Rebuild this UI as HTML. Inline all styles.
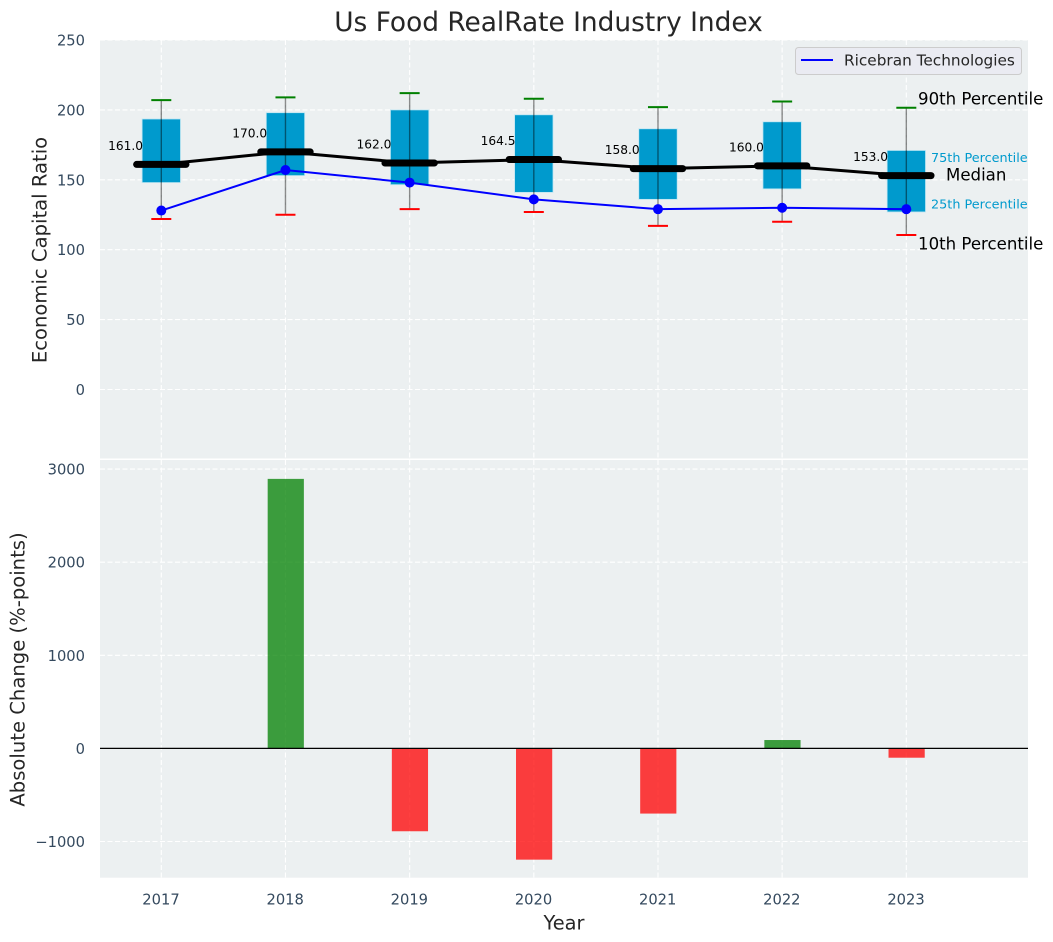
<!DOCTYPE html>
<html lang="en">
<head>
<meta charset="utf-8">
<title>Us Food RealRate Industry Index</title>
<style>
html,body{margin:0;padding:0;background:#fff;}
body{width:1053px;height:942px;overflow:hidden;}
svg{display:block;font-family:"DejaVu Sans","Liberation Sans",sans-serif;}
</style>
</head>
<body>
<svg id="chart" xmlns="http://www.w3.org/2000/svg" width="1053" height="942" viewBox="0 0 1053 942"></svg>
<script>
const years = [2017, 2018, 2019, 2020, 2021, 2022, 2023];
const p90 = [207, 209, 212, 208, 202, 206, 201.5];
const p75 = [193.5, 198, 200, 196.5, 186.5, 191.5, 171];
const median = [161, 170, 162, 164.5, 158, 160, 153];
const p25 = [148, 153, 146.5, 141, 136, 143.5, 127];
const p10 = [122, 125, 129, 127, 117, 120, 110.5];
const company = [128, 157, 148, 136, 129, 130, 129];
const change = [null, 2895, -890, -1195, -700, 90, -100];
const topTicks = [0, 50, 100, 150, 200, 250];
const bottomTicks = [-1000, 0, 1000, 2000, 3000];

const svg = document.getElementById('chart');
const NS = 'http://www.w3.org/2000/svg';
const L = 100, R = 1028;
const topY0 = 40, topY1 = 458.5, botY0 = 460, botY1 = 877.7;

function x(yr) { return 161.3 + (yr - 2017) * 124.17; }
function yTop(v) { return 389.5 - v * 1.398; }
function yBot(v) { return 748.4 - v * 0.0931; }

function add(tag, attrs, parent, text) {
  const el = document.createElementNS(NS, tag);
  for (const k in attrs) el.setAttribute(k, attrs[k]);
  if (text !== undefined) el.textContent = text;
  (parent || svg).appendChild(el);
  return el;
}

let el;

// Panels
el = add('rect', {x: L, y: topY0, width: R - L, height: topY1 - topY0, fill: '#ecf0f1'});


el = add('rect', {x: L, y: botY0, width: R - L, height: botY1 - botY0, fill: '#ecf0f1'});



const gridStyle = {stroke: '#ffffff', 'stroke-width': 1.1, 'stroke-dasharray': '5 2.5'};

// Grid
years.forEach(function (yr) {
  el = add('line', Object.assign({x1: x(yr), x2: x(yr), y1: topY0, y2: topY1}, gridStyle));
  
  
  el = add('line', Object.assign({x1: x(yr), x2: x(yr), y1: botY0, y2: botY1}, gridStyle));
  
  
});
topTicks.forEach(function (v) {
  el = add('line', Object.assign({x1: L, x2: R, y1: yTop(v), y2: yTop(v)}, gridStyle));
  
  
  el = add('text', {x: 85, y: yTop(v) + 5.5, 'text-anchor': 'end', 'font-size': 14.7, fill: '#34495e'}, null, String(v));
  
  
});
bottomTicks.forEach(function (v) {
  el = add('line', Object.assign({x1: L, x2: R, y1: yBot(v), y2: yBot(v)}, gridStyle));
  
  
  el = add('text', {x: 85, y: yBot(v) + 5.5, 'text-anchor': 'end', 'font-size': 14.7, fill: '#34495e'}, null, String(v).replace('-', '\u2212'));
  
  
});

// Boxes
years.forEach(function (yr, i) {
  const cx = x(yr);
  el = add('rect', {x: cx - 19.2, y: yTop(p75[i]), width: 38.4, height: yTop(p25[i]) - yTop(p75[i]),
    fill: '#009acd', stroke: '#bfe6f2', 'stroke-width': 0.8});
  
  
});

// Whiskers and caps
years.forEach(function (yr, i) {
  const cx = x(yr);
  el = add('line', {x1: cx, x2: cx, y1: yTop(p90[i]), y2: yTop(p10[i]), stroke: '#000', 'stroke-opacity': 0.45, 'stroke-width': 1.4});
  
  
  el = add('line', {x1: cx - 10, x2: cx + 10, y1: yTop(p90[i]), y2: yTop(p90[i]), stroke: '#008000', 'stroke-width': 2});
  
  
  el = add('line', {x1: cx - 10, x2: cx + 10, y1: yTop(p10[i]), y2: yTop(p10[i]), stroke: '#ff0000', 'stroke-width': 2});
  
  
});

// Median line
el = add('polyline', {points: years.map(function (yr, i) { return x(yr) + ',' + yTop(median[i]); }).join(' '),
  fill: 'none', stroke: '#000', 'stroke-width': 3});



years.forEach(function (yr, i) {
  const cx = x(yr);
  el = add('line', {x1: cx - 24.7, x2: cx + 24.7, y1: yTop(median[i]), y2: yTop(median[i]),
    stroke: '#000', 'stroke-width': 7, 'stroke-linecap': 'round'});
  
  
  el = add('text', {x: cx - 18.3, y: yTop(median[i]) - 14.5, 'text-anchor': 'end', 'font-size': 12.2, fill: '#000'}, null, median[i].toFixed(1));
  
  
});

// Company line
el = add('polyline', {points: years.map(function (yr, i) { return x(yr) + ',' + yTop(company[i]); }).join(' '),
  fill: 'none', stroke: '#0000ff', 'stroke-width': 2});


years.forEach(function (yr, i) {
  el = add('circle', {cx: x(yr), cy: yTop(company[i]), r: 5, fill: '#0000ff'});
  
  
});

// Percentile annotations on the last year
const last = years.length - 1;
const lx = x(years[last]);
el = add('text', {x: lx + 11.7, y: yTop(p90[last]) - 3.5, 'font-size': 16.6, fill: '#000'}, null, '90th Percentile');


el = add('text', {x: lx + 11.7, y: yTop(p10[last]) + 14.3, 'font-size': 16.6, fill: '#000'}, null, '10th Percentile');


el = add('text', {x: lx + 39.7, y: yTop(median[last]) + 5, 'font-size': 16.6, fill: '#000'}, null, 'Median');


el = add('text', {x: lx + 24.7, y: yTop(p75[last]) + 11.8, 'font-size': 12.8, fill: '#009acd'}, null, '75th Percentile');


el = add('text', {x: lx + 24.7, y: yTop(p25[last]) - 3.5, 'font-size': 12.8, fill: '#009acd'}, null, '25th Percentile');



// Bars
years.forEach(function (yr, i) {
  const v = change[i];
  if (v === null) return;
  const y1 = yBot(Math.max(v, 0)), y2 = yBot(Math.min(v, 0));
  el = add('rect', {x: x(yr) - 17.8, y: y1, width: 36.2, height: y2 - y1,
    fill: v >= 0 ? '#008000' : '#ff0000', 'fill-opacity': 0.75});
  
  
});
el = add('line', {x1: L, x2: R, y1: yBot(0), y2: yBot(0), stroke: '#000', 'stroke-width': 1.3});



// X ticks
years.forEach(function (yr) {
  el = add('text', {x: x(yr) - 0.3, y: 904.5, 'text-anchor': 'middle', 'font-size': 14.7, fill: '#34495e'}, null, String(yr));
  
  
});

// Titles
el = add('text', {x: 548.5, y: 31, 'text-anchor': 'middle', 'font-size': 26.4, fill: '#262626'}, null, 'Us Food RealRate Industry Index');


el = add('text', {x: 564, y: 929.5, 'text-anchor': 'middle', 'font-size': 19.4, fill: '#262626'}, null, 'Year');


el = add('text', {x: 0, y: 0, 'text-anchor': 'middle', 'font-size': 19.6, fill: '#262626', transform: 'translate(46.5 250) rotate(-90)'}, null, 'Economic Capital Ratio');


el = add('text', {x: 0, y: 0, 'text-anchor': 'middle', 'font-size': 19.6, fill: '#262626', transform: 'translate(24.5 669.5) rotate(-90)'}, null, 'Absolute Change (%-points)');



// Legend
el = add('rect', {x: 795.5, y: 47.5, width: 226, height: 27, rx: 3, fill: '#eaeaf2', 'fill-opacity': 0.9, stroke: '#cccccc', 'stroke-width': 1});


el = add('line', {x1: 801, x2: 833, y1: 60, y2: 60, stroke: '#0000ff', 'stroke-width': 2});


el = add('text', {x: 844, y: 65.5, 'font-size': 15.3, fill: '#262626'}, null, 'Ricebran Technologies');


</script>
</body>
</html>
